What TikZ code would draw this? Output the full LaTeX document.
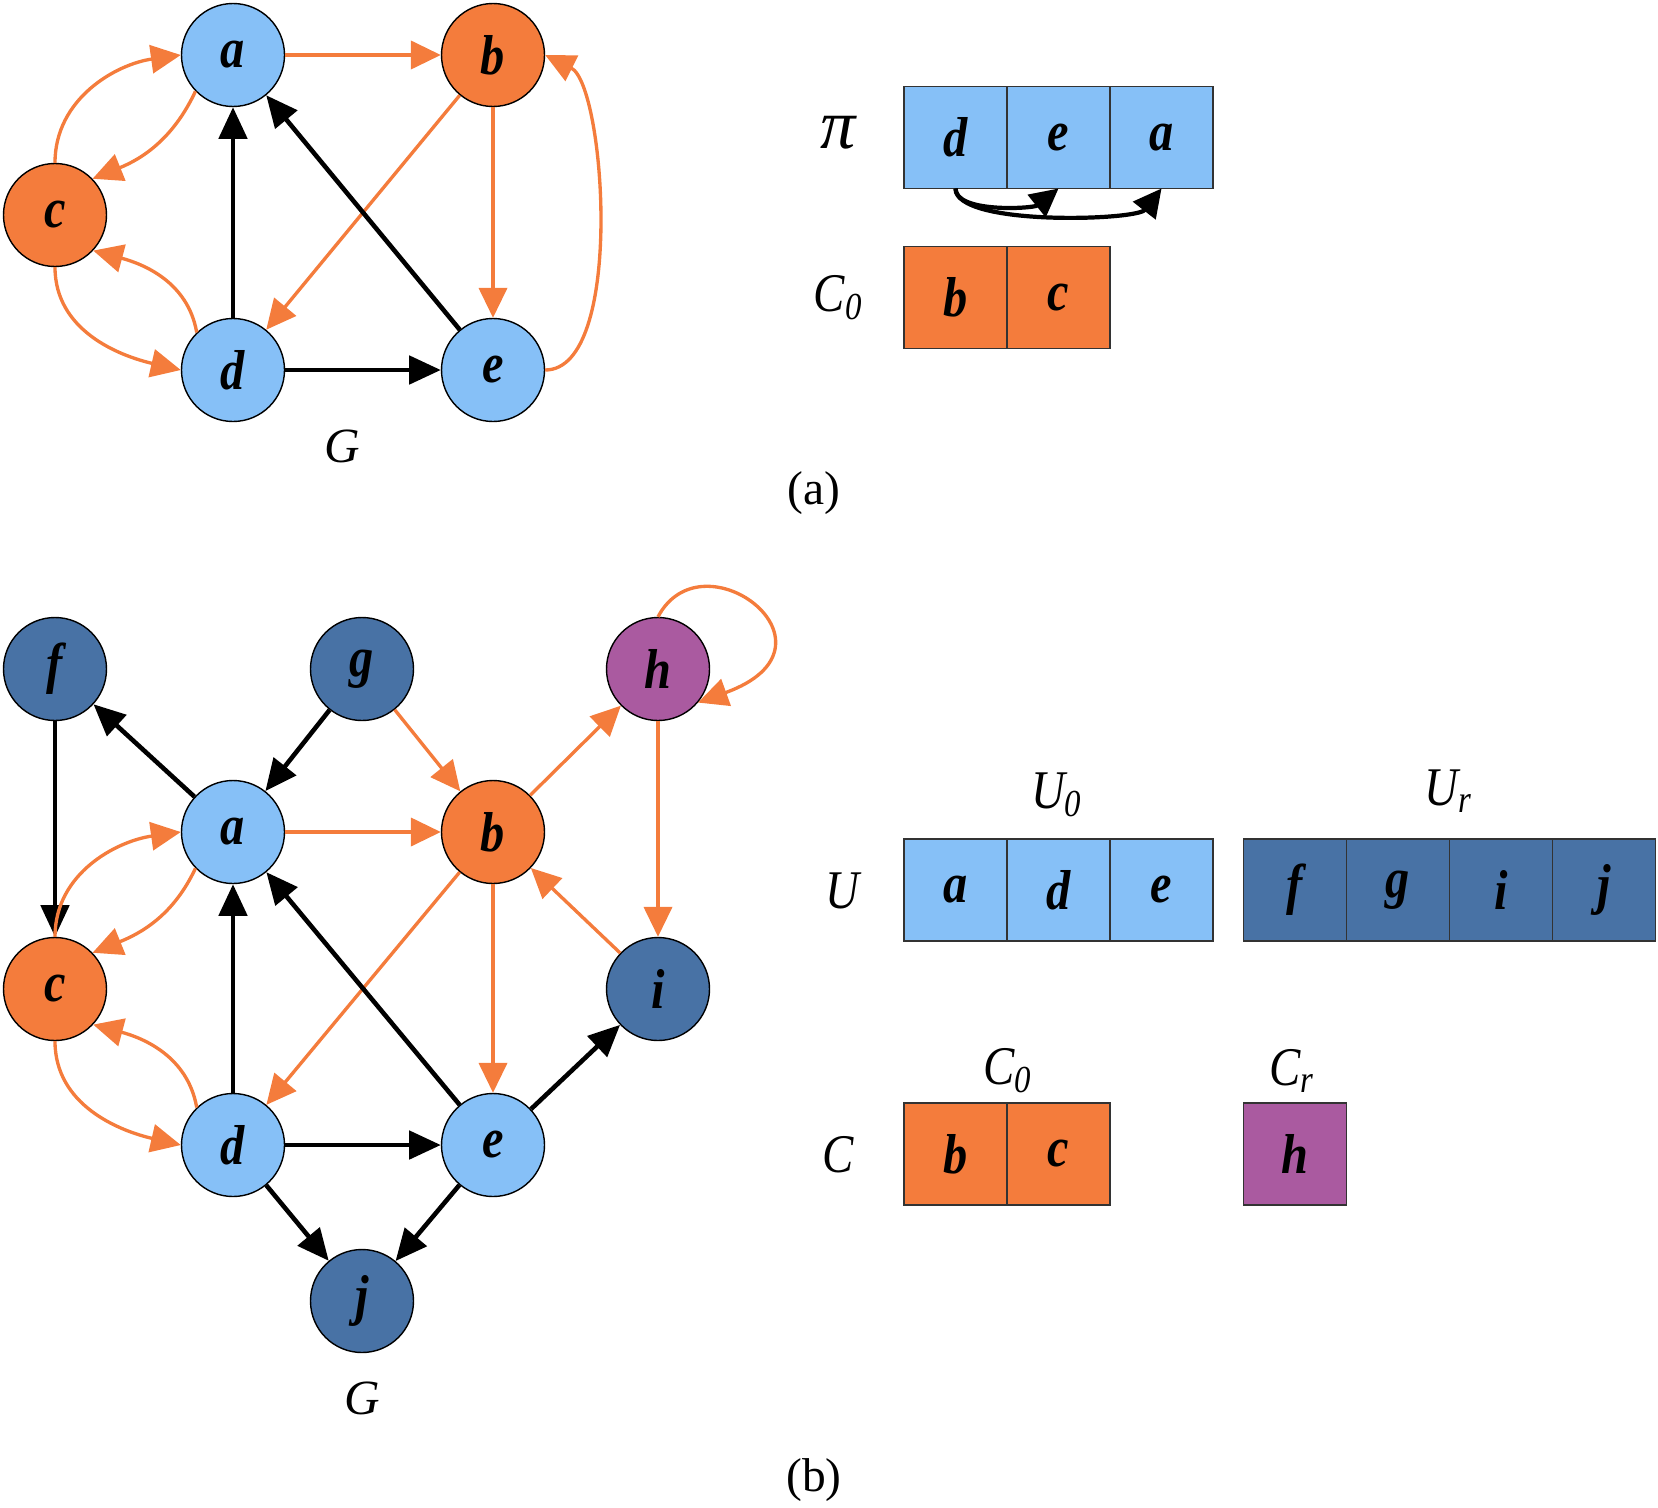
\documentclass[tikz,border=0pt]{standalone}
\usepackage{fontspec}
\setmainfont{Liberation Serif}
\newfontfamily\condfont{Liberation Serif}[FakeStretch=0.86]
\usepackage{tikz}
\usetikzlibrary{arrows.meta, positioning, calc}
\definecolor{lblue}{RGB}{134,192,247}
\definecolor{org}{RGB}{244,124,60}
\definecolor{dblue}{RGB}{72,114,165}
\definecolor{purp}{RGB}{170,90,160}
\tikzset{>=stealth}
\tikzset{
  vtx/.style={circle, draw, line width=0.4pt, minimum size=1.03cm, inner sep=0pt,
    font=\condfont\fontsize{16}{18}\selectfont\bfseries\itshape},
  cell/.style={rectangle, draw=black!80, line width=0.5pt, minimum width=1.03cm,
    minimum height=1.02cm, inner sep=0pt, outer sep=0pt,
    font=\condfont\fontsize{16}{18}\selectfont\bfseries\itshape},
  lbl/.style={font=\condfont\fontsize{15.5}{18}\selectfont\itshape},
  oarr/.style={draw=org, line width=0.95pt, -{Triangle[length=8.5pt,width=8pt]}},
  barr/.style={draw=black, line width=1.3pt, -{Triangle[length=9pt,width=8pt]}},
  parr/.style={draw=black, line width=1.2pt, -{Triangle[length=8pt,width=8pt]}}
}

\begin{document}
\begin{tikzpicture}

	\useasboundingbox (0,0) rectangle (16.58,-15.07);

	% (a) graph
	\node [vtx, fill=lblue] (a1) at (2.33,-0.55) {a};
	\node [vtx, fill=org] (b1) at (4.93,-0.55) {b};
	\node [vtx, fill=org] (c1) at (0.55,-2.15) {c};
	\node [vtx, fill=lblue] (d1) at (2.33,-3.70) {d};
	\node [vtx, fill=lblue] (e1) at (4.93,-3.70) {e};
	\node [font=\fontsize{14}{16}\selectfont\itshape] (g1) at (3.42,-4.46) {G};

	\draw [oarr] (a1) -- (b1);
	\draw [oarr] (c1.north) to[out=90, in=188] (a1.west);
	\draw [oarr] (a1.224) to[out=245, in=22] (c1.44);
	\draw [oarr] (d1.134) to[out=100, in=-15] (c1.-43);
	\draw [oarr] (c1.south) to[out=-90, in=167] (d1.west);
	\draw [oarr] (b1) -- (d1);
	\draw [oarr] (b1) -- (e1);
	\draw [oarr] (e1.east) .. controls +(0.8,0) and +(0.6,-0.3) .. (b1.east);
	\draw [barr] (d1) -- (a1);
	\draw [barr] (e1) -- (a1);
	\draw [barr] (d1) -- (e1);

	% pi and C_0
	\node [font=\fontsize{20}{22}\selectfont\itshape] (pilbl) at (8.385,-1.33) {π};
	\node [cell, fill=lblue] (pd) at (9.555,-1.375) {d};
	\node [cell, fill=lblue, right=0pt of pd] (pe) {e};
	\node [cell, fill=lblue, right=0pt of pe] (pa) {a};
	\draw [parr] (pd.south) .. controls +(0,-0.25) and +(-0.25,-0.2) .. (pe.south);
	\draw [parr] (pd.south) .. controls +(0,-0.38) and +(-0.25,-0.32) .. (pa.south);

	\node [lbl] (c0lbl) at (8.385,-2.98) {C\textsubscript{0}};
	\node [cell, fill=org] (cb1) at (9.555,-2.975) {b};
	\node [cell, fill=org, right=0pt of cb1] (cc1) {c};

	\node [font=\fontsize{13.5}{16}\selectfont] (capa) at (8.14,-4.93) {(a)};

	% (b) graph
	\node [vtx, fill=dblue] (f) at (0.55,-6.69) {f};
	\node [vtx, fill=dblue] (g) at (3.62,-6.69) {g};
	\node [vtx, fill=purp] (h) at (6.58,-6.69) {h};
	\node [vtx, fill=lblue] (a) at (2.33,-8.32) {a};
	\node [vtx, fill=org] (b) at (4.93,-8.32) {b};
	\node [vtx, fill=org] (c) at (0.55,-9.89) {c};
	\node [vtx, fill=dblue] (i) at (6.58,-9.89) {i};
	\node [vtx, fill=lblue] (d) at (2.33,-11.45) {d};
	\node [vtx, fill=lblue] (e) at (4.93,-11.45) {e};
	\node [vtx, fill=dblue] (j) at (3.62,-13.01) {j};
	\node [font=\fontsize{14}{16}\selectfont\itshape] (g2) at (3.62,-13.98) {G};

	\draw [barr] (f) -- (c);
	\draw [barr] (a) -- (f);
	\draw [barr] (g) -- (a);
	\draw [oarr] (g) -- (b);
	\draw [oarr] (b) -- (h);
	\draw [oarr] (h.90) .. controls +(0.45,0.85) and +(1.55,0.56) .. (h.-40);
	\draw [oarr] (h) -- (i);
	\draw [oarr] (i) -- (b);
	\draw [oarr] (a) -- (b);
	\draw [oarr] (c.north) to[out=90, in=188] (a.west);
	\draw [oarr] (a.224) to[out=245, in=22] (c.44);
	\draw [oarr] (d.134) to[out=100, in=-15] (c.-43);
	\draw [oarr] (c.south) to[out=-90, in=167] (d.west);
	\draw [oarr] (b) -- (d);
	\draw [oarr] (b) -- (e);
	\draw [barr] (d) -- (a);
	\draw [barr] (e) -- (a);
	\draw [barr] (d) -- (e);
	\draw [barr] (e) -- (i);
	\draw [barr] (d) -- (j);
	\draw [barr] (e) -- (j);

	% U and C
	\node [lbl] (ulbl) at (8.42,-8.91) {U};
	\node [cell, fill=lblue] (ua) at (9.555,-8.90) {a};
	\node [cell, fill=lblue, right=0pt of ua] (ud) {d};
	\node [cell, fill=lblue, right=0pt of ud] (ue) {e};
	\node [cell, fill=dblue] (uf) at (12.95,-8.90) {f};
	\node [cell, fill=dblue, right=0pt of uf] (ug) {g};
	\node [cell, fill=dblue, right=0pt of ug] (ui) {i};
	\node [cell, fill=dblue, right=0pt of ui] (uj) {j};
	\node [lbl] (u0lbl) at (10.57,-7.95) {U\textsubscript{0}};
	\node [lbl] (urlbl) at (14.49,-7.91) {U\textsubscript{r}};

	\node [lbl] (clbl) at (8.385,-11.55) {C};
	\node [cell, fill=org] (cb) at (9.555,-11.54) {b};
	\node [cell, fill=org, right=0pt of cb] (cc) {c};
	\node [cell, fill=purp] (ch) at (12.95,-11.54) {h};
	\node [lbl] (c0lbl2) at (10.08,-10.71) {C\textsubscript{0}};
	\node [lbl] (crlbl) at (12.92,-10.71) {C\textsubscript{r}};

	\node [font=\fontsize{13.5}{16}\selectfont] (capb) at (8.14,-14.80) {(b)};

\end{tikzpicture}
\end{document}
